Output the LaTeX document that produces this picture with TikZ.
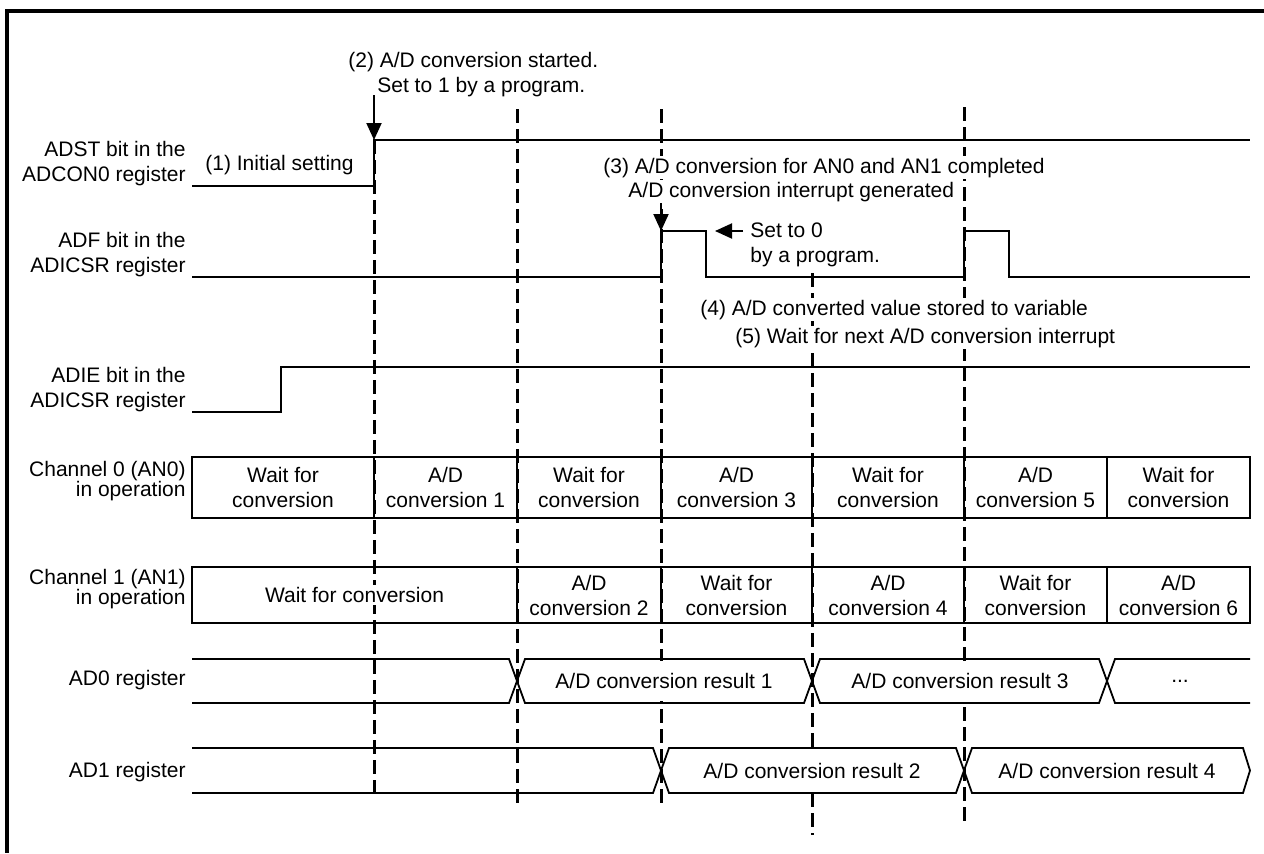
\documentclass[tikz,border=0pt]{standalone}
\usepackage{fontspec}
\setmainfont{Liberation Sans}
\usetikzlibrary{arrows.meta}

\begin{document}
\begin{tikzpicture}[x=0.5pt, y=-0.5pt,
  font=\fontsize{10.5}{12.5}\selectfont,
  sig/.style={line width=1pt},
  guide/.style={line width=1.5pt, dash pattern=on 7pt off 3pt},
  bus/.style={line width=0.9pt},
  arr/.style={line width=1pt, -{Triangle[width=7.5pt,length=8.5pt]}},
  lbl/.style={align=right, anchor=east, inner sep=0pt},
  chlbl/.style={lbl, font=\fontsize{10.5}{10}\selectfont},
  txt/.style={anchor=base west, fill=white, inner sep=1pt},
  cell/.style={align=center, fill=white, inner sep=1pt}]
\useasboundingbox (0,0) rectangle (1264,853);
\draw[line width=1.75pt] (1264,11) -- (7,11) -- (7,853);

\coordinate (top1) at (374,140); \coordinate (bot1) at (374,800);
\coordinate (top2) at (517,109); \coordinate (bot2) at (517,806);
\coordinate (top3) at (661,109); \coordinate (bot3) at (661,806);
\coordinate (top4) at (812,273); \coordinate (bot4) at (812,835);
\coordinate (top5) at (964,107); \coordinate (bot5) at (964,825);
\foreach \g in {1,...,5} \draw[guide] (top\g) -- (bot\g);

\node[lbl] (adst) at (186,164) {ADST bit in the\\ADCON0 register};
\node[lbl] (adf) at (186,254.5) {ADF bit in the\\ADICSR register};
\node[lbl] (adie) at (186,390) {ADIE bit in the\\ADICSR register};
\node[chlbl] (ch0) at (186,481) {Channel 0 (AN0)\\in operation};
\node[chlbl] (ch1) at (186,589.5) {Channel 1 (AN1)\\in operation};
\node[lbl] (ad0) at (186,680) {AD0 register};
\node[lbl] (ad1) at (186,772) {AD1 register};

\draw[sig] (192,186) -- (374,186) -- (374,140) -- (1250,140);
\draw[sig] (192,277) -- (661,277) -- (661,231) -- (706,231) -- (706,277) -- (964,277)
  -- (964,231) -- (1009,231) -- (1009,277) -- (1250,277);
\draw[sig] (192,412) -- (281,412) -- (281,367) -- (1250,367);

\draw[sig] (192,457) rectangle (1250,518);
\foreach \x in {374,517,661,812,964,1107} \draw[sig] (\x,457) -- (\x,518);
\node[cell] (c0a) at (283,487.5) {Wait for\\conversion};
\node[cell] (c0b) at (445.5,487.5) {A/D\\conversion 1};
\node[cell] (c0c) at (589,487.5) {Wait for\\conversion};
\node[cell] (c0d) at (736.5,487.5) {A/D\\conversion 3};
\node[cell] (c0e) at (888,487.5) {Wait for\\conversion};
\node[cell] (c0f) at (1035.5,487.5) {A/D\\conversion 5};
\node[cell] (c0g) at (1178.5,487.5) {Wait for\\conversion};

\draw[sig] (192,567) rectangle (1250,623);
\foreach \x in {517,661,812,964,1107} \draw[sig] (\x,567) -- (\x,623);
\node[cell] (c1a) at (354.5,595) {Wait for conversion};
\node[cell] (c1b) at (589,595) {A/D\\conversion 2};
\node[cell] (c1c) at (736.5,595) {Wait for\\conversion};
\node[cell] (c1d) at (888,595) {A/D\\conversion 4};
\node[cell] (c1e) at (1035.5,595) {Wait for\\conversion};
\node[cell] (c1f) at (1178.5,595) {A/D\\conversion 6};

\draw[bus] (192,659) -- (509,659) -- (525,703) -- (804,703) -- (820,659) -- (1099,659) -- (1115,703) -- (1250,703);
\draw[bus] (192,703) -- (509,703) -- (525,659) -- (804,659) -- (820,703) -- (1099,703) -- (1115,659) -- (1250,659);
\node[cell, minimum height=20pt] (r1) at (664,681) {A/D conversion result 1};
\node[cell, minimum height=20pt] (r3) at (960,681) {A/D conversion result 3};
\node[cell] (rdots) at (1180,681) {...};

\draw[bus] (192,748) -- (653,748) -- (669,793) -- (956,793) -- (972,748) -- (1243,748) -- (1250,770.5)
  -- (1243,793) -- (972,793) -- (956,748) -- (669,748) -- (653,793) -- (192,793);
\node[cell, minimum height=20pt] (r2) at (812,770.5) {A/D conversion result 2};
\node[cell, minimum height=20pt] (r4) at (1107,770.5) {A/D conversion result 4};

\node[txt] (n2a) at (346,67) {(2) A/D conversion started.};
\node[txt] (n2b) at (375,92) {Set to 1 by a program.};
\node[txt] (n1) at (203,170) {(1) Initial setting};
\node[txt] (n3a) at (601,173) {(3) A/D conversion for AN0 and AN1 completed};
\node[txt] (n3b) at (626,197) {A/D conversion interrupt generated};
\node[txt] (n0a) at (748,237) {Set to 0};
\node[txt] (n0b) at (748,262) {by a program.};
\node[txt] (n4) at (698,315) {(4) A/D converted value stored to variable};
\node[txt] (n5) at (733,343) {(5) Wait for next A/D conversion interrupt};

\coordinate (p2) at (374,95); \coordinate (q2) at (374,140);
\coordinate (p3) at (661,203); \coordinate (q3) at (661,231);
\coordinate (p0) at (743,231); \coordinate (q0) at (715,231);
\draw[arr] (p2) -- (q2);
\draw[arr] (p3) -- (q3);
\draw[arr] (p0) -- (q0);
\end{tikzpicture}
\end{document}
